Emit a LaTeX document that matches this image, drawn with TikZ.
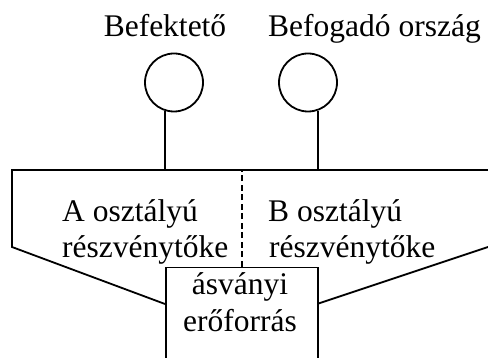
\documentclass[tikz,border=0pt]{standalone}
\usepackage{fontspec}
\setmainfont{Liberation Serif}
\begin{document}
\begin{tikzpicture}[x=1pt,y=-1pt,
  line/.style={line width=1.8pt},
  txt/.style={font=\fontsize{31.5}{36}\selectfont, inner sep=0pt},
  party/.style={circle, draw, line width=1.8pt, minimum size=58pt, inner sep=0pt},
  resource/.style={rectangle, draw, fill=white, line width=1.8pt, inner sep=0pt},
]
\useasboundingbox (0,0) rectangle (488,358);
\clip (0,0) rectangle (488,358);

% parties and their labels
\node[txt, anchor=base] (inv) at (165,37) {Befektető};
\node[txt, anchor=base west] (host) at (268,37) {Befogadó ország};
\node[party] (c1) at (174,82.5) {};
\node[party] (c2) at (308,82.5) {};

% corners of the joint-venture outline
\coordinate (tl) at (12,170);
\coordinate (tr) at (492,170);
\coordinate (ll) at (12,247);
\coordinate (lb) at (165,304);
\coordinate (rb) at (317,304);
\coordinate (rr) at (494,245);

\draw[line] (tr) -- (tl) -- (ll) -- (lb);
\draw[line] (rb) -- (rr);

% stems from the parties down to the outline
\draw[line] (c1.-108) -- (c1.-108 |- tl);
\draw[line] (c2.-70) -- (c2.-70 |- tl);

% mineral resource box
\node[resource, minimum width=152pt, minimum height=120pt, anchor=north west] (box) at (165,266.7) {};
\draw[line width=1.6pt, dash pattern=on 6pt off 3.5pt] (box.north -| 241.7,0) -- (241.7,170);

% share capital labels
\node[txt, anchor=base west] (a1) at (62,222) {A osztályú};
\node[txt, anchor=base west] (a2) at (62,258) {részvénytőke};
\node[txt, anchor=base west] (b1) at (268,222) {B osztályú};
\node[txt, anchor=base west] (b2) at (269,258) {részvénytőke};

% box text
\node[txt, anchor=base] (r1) at (240,295) {ásványi};
\node[txt, anchor=base] (r2) at (240,331.7) {erőforrás};
\end{tikzpicture}
\end{document}
